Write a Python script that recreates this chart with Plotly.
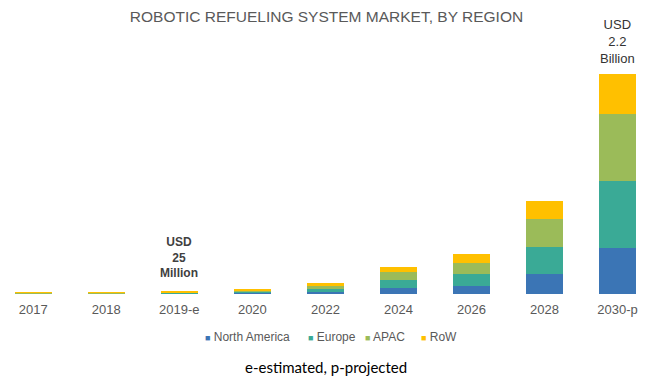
import plotly.graph_objects as go

years = ["2017", "2018", "2019-e", "2020", "2022", "2024", "2026", "2028", "2030-p"]
north_america = [3, 3, 5, 10, 25, 63, 80, 197, 460]
europe = [4, 4, 7, 13, 30, 77, 117, 276, 670]
apac = [3, 4, 7, 13, 30, 77, 116, 277, 670]
row = [3, 4, 6, 11, 22, 56, 87, 183, 400]

series_names = ["North America", "Europe", "APAC", "RoW"]
series_values = [north_america, europe, apac, row]
colors = ["#3B75B5", "#3AAA96", "#9BBB59", "#FFC000"]

totals = [sum(v) for v in zip(*series_values)]

fig = go.Figure()
x_idx = list(range(len(years)))
for name, vals, col in zip(series_names, series_values, colors):
    fig.add_trace(go.Bar(x=x_idx, y=vals, name=name, marker=dict(color=col, line=dict(width=0)),
                         showlegend=False))

# The page body has an 8px margin, so the figure is sized to the visible area.
OFF = 8
W, H = 650 - OFF, 380 - OFF
ml, mr, mt, mb = 0, 0, 12, 86
ph = H - mt - mb

def py(win_px):
    return (H - mb - (win_px - OFF)) / ph

def px(win_px):
    return (win_px - OFF) / W

annotations = []
annotations.append(dict(x=2, y=totals[2], xref="x", yref="y", text="<b>USD<br>25<br>Million</b>",
                        showarrow=False, yanchor="bottom", yshift=10,
                        font=dict(family="Liberation Sans, Arial", size=12, color="#404040")))
annotations.append(dict(x=8, y=totals[8], xref="x", yref="y", text="USD<br>2.2<br>Billion",
                        showarrow=False, yanchor="bottom", yshift=6,
                        font=dict(family="Liberation Sans, Arial", size=13, color="#333333")))
legend_x = [203, 306, 363, 419]
for name, col, lx in zip(series_names, colors, legend_x):
    annotations.append(dict(x=px(lx), y=py(337), xref="paper", yref="paper", xanchor="left",
                            yanchor="middle", showarrow=False,
                            text=f'<span style="color:{col};font-size:9px">■</span> {name}',
                            font=dict(family="Liberation Sans, Arial", size=12, color="#595959")))
annotations.append(dict(x=px(326), y=py(367), xref="paper", yref="paper", showarrow=False,
                        yanchor="middle", text="e-estimated, p-projected",
                        font=dict(family="Lato, Liberation Sans", size=15, color="#000000")))

fig.update_layout(
    width=W, height=H,
    margin=dict(l=ml, r=mr, t=mt, b=mb),
    barmode="stack",
    bargap=0.493,
    paper_bgcolor="white",
    plot_bgcolor="white",
    title=dict(text="ROBOTIC REFUELING SYSTEM MARKET, BY REGION", x=px(326.5), xanchor="center",
               y=1 - 9 / H, yanchor="middle",
               font=dict(family="Liberation Sans, Arial", size=15.5, color="#595959")),
    xaxis=dict(tickmode="array", tickvals=x_idx, ticktext=years, range=[-0.346, 8.445],
               showgrid=False, zeroline=False, showline=False, ticks="",
               ticklabelstandoff=6,
               tickfont=dict(family="Liberation Sans, Arial", size=13, color="#595959")),
    yaxis=dict(range=[0, 2740], visible=False),
    annotations=annotations,
    showlegend=False,
)

fig.write_html("out.html")
